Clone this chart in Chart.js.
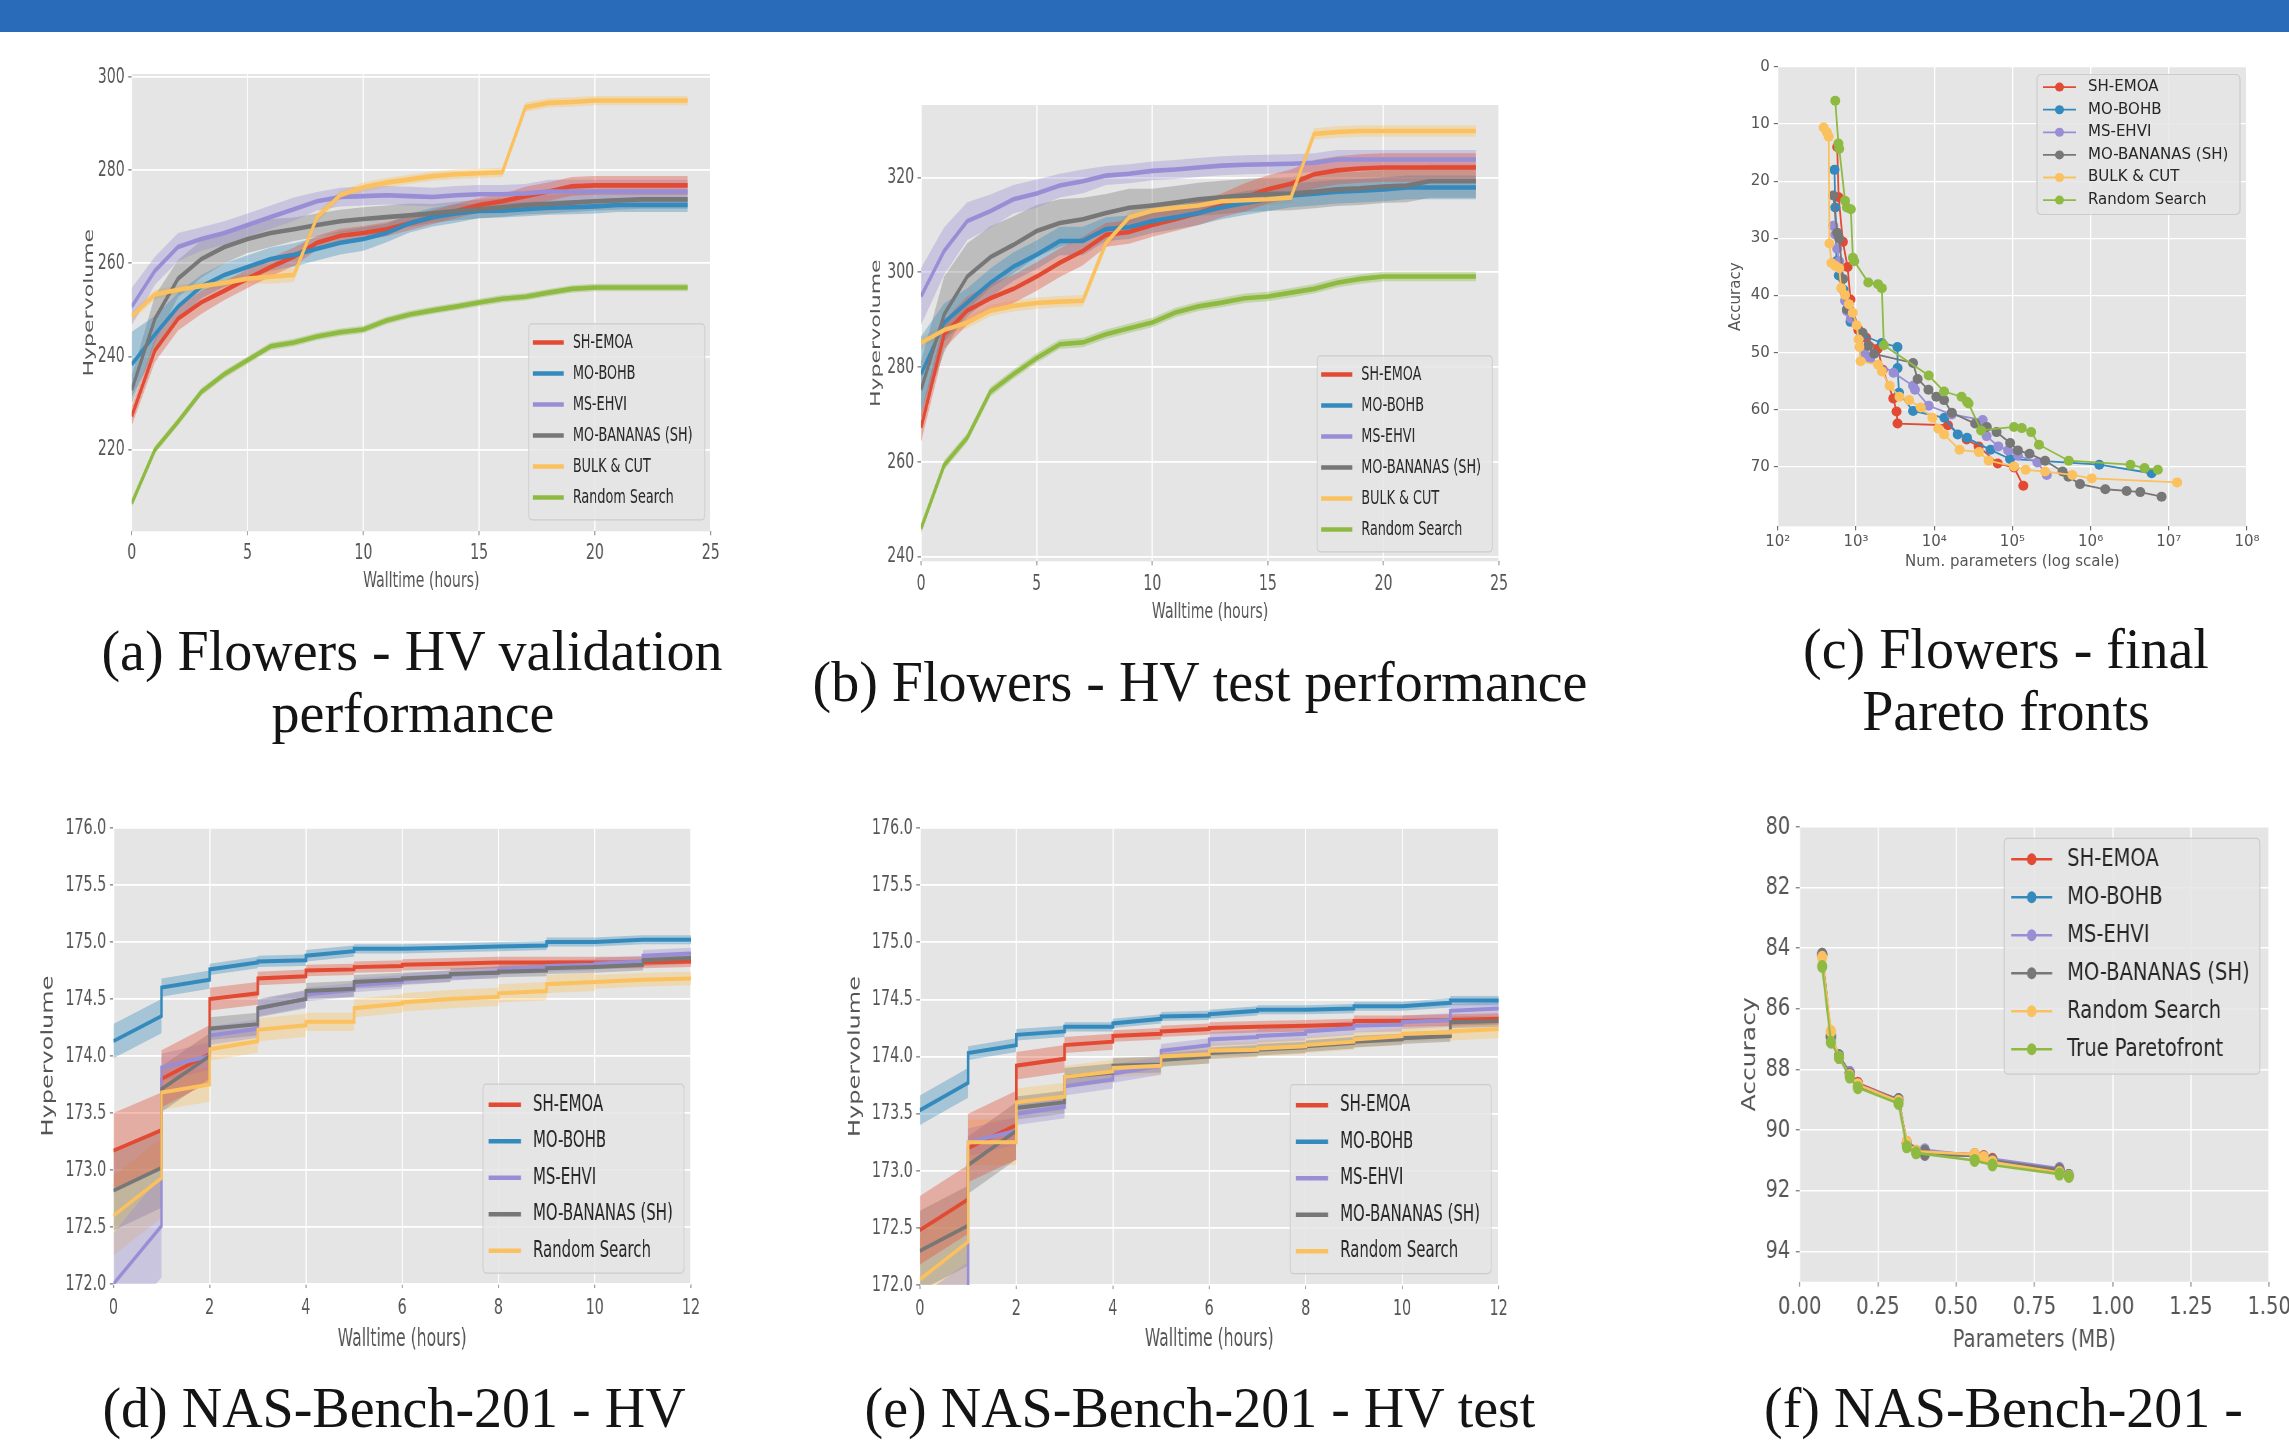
<!DOCTYPE html>
<html>
<head>
<meta charset="utf-8">
<script src="https://cdn.jsdelivr.net/npm/chart.js@4.4.1/dist/chart.umd.min.js"></script>
<style>
  html, body { margin: 0; padding: 0; background: #ffffff; }
  body { width: 2289px; height: 1440px; position: relative; overflow: hidden; }
  #topbar { position: absolute; left: 0; top: 0; width: 2289px; height: 32px; background: #2a6bb9; }
  canvas { position: absolute; transform-origin: 0 0; }
  .cap { position: absolute; font-family: "Liberation Serif", "DejaVu Serif", serif; font-size: 56px;
         line-height: 56px; color: #141414; white-space: nowrap; }
  .mid { transform: translateX(-50%); }
</style>
</head>
<body>
<div id="topbar"></div>
<canvas id="chartA"></canvas>
<canvas id="chartB"></canvas>
<canvas id="chartC"></canvas>
<canvas id="chartD"></canvas>
<canvas id="chartE"></canvas>
<canvas id="chartF"></canvas>

<div class="cap mid" style="left:412px; top:623px">(a) Flowers - HV validation</div>
<div class="cap mid" style="left:413px; top:685px">performance</div>
<div class="cap mid" style="left:1200px; top:654px">(b) Flowers - HV test performance</div>
<div class="cap mid" style="left:2006px; top:621px">(c) Flowers - final</div>
<div class="cap mid" style="left:2006px; top:683px">Pareto fronts</div>
<div class="cap mid" style="left:394px; top:1380px">(d) NAS-Bench-201 - HV</div>
<div class="cap mid" style="left:1200px; top:1380px">(e) NAS-Bench-201 - HV test</div>
<div class="cap" style="left:1764px; top:1380px">(f) NAS-Bench-201 -</div>

<script>
// ---------- data ----------
const hvNames = ['SH-EMOA', 'MO-BOHB', 'MS-EHVI', 'MO-BANANAS (SH)', 'BULK & CUT', 'Random Search'];
const nasNames = ['SH-EMOA', 'MO-BOHB', 'MS-EHVI', 'MO-BANANAS (SH)', 'Random Search'];
const paretoNames = ['SH-EMOA', 'MO-BOHB', 'MS-EHVI', 'MO-BANANAS (SH)', 'Random Search', 'True Paretofront'];
const hvColors = ['#E24A33', '#348ABD', '#988ED5', '#777777', '#FBC15E', '#8EBA42'];
const nasColors = ['#E24A33', '#348ABD', '#988ED5', '#777777', '#FBC15E'];
const paretoColors = ['#E24A33', '#348ABD', '#988ED5', '#777777', '#FBC15E', '#8EBA42'];

// (a) Flowers - HV validation, hourly
const flowersHours = [0, 1, 2, 3, 4, 5, 6, 7, 8, 9, 10, 11, 12, 13, 14, 15, 16, 17, 18, 19, 20, 21, 22, 23, 24];
const aSH   = [227.2, 241.3, 248.1, 251.6, 254.1, 256.7, 259.2, 261.4, 264.4, 265.9, 266.5, 267.3, 268.6, 269.9, 271.2, 272.5, 273.3, 274.4, 275.4, 276.5, 276.7, 276.7, 276.7, 276.7, 276.7];
const aBOHB = [238.3, 244.7, 250.7, 255.0, 257.5, 259.2, 260.9, 261.8, 263.1, 264.4, 265.2, 266.5, 268.6, 269.9, 270.7, 271.2, 271.3, 271.6, 271.9, 272.0, 272.2, 272.5, 272.5, 272.5, 272.5];
const aEHVI = [250.7, 258.4, 263.5, 265.2, 266.5, 268.2, 269.9, 271.6, 273.3, 274.2, 274.4, 274.6, 274.4, 274.2, 274.6, 274.8, 274.8, 275.0, 275.4, 275.4, 275.4, 275.4, 275.4, 275.4, 275.4];
const aBAN  = [232.8, 248.1, 256.7, 260.9, 263.5, 265.2, 266.5, 267.3, 268.2, 269.0, 269.5, 269.9, 270.3, 270.7, 271.2, 271.6, 272.0, 272.5, 272.7, 273.0, 273.3, 273.5, 273.7, 273.7, 273.7];
const aBULK = [248.6, 253.3, 254.3, 255.1, 255.8, 256.7, 257.1, 257.5, 269.9, 274.6, 276.3, 277.3, 278.0, 278.7, 279.1, 279.3, 279.5, 293.5, 294.4, 294.6, 294.9, 294.9, 294.9, 294.9, 294.9];
const aRS   = [208.5, 220.0, 226.0, 232.4, 236.2, 239.2, 242.2, 243.0, 244.3, 245.2, 245.8, 247.7, 249.0, 249.9, 250.7, 251.6, 252.4, 252.8, 253.7, 254.5, 254.8, 254.8, 254.8, 254.8, 254.8];
// half width of the shaded bands
const aSHband   = [2.0, 2.5, 2.5, 2.5, 2.0, 2.0, 2.0, 2.0, 1.5, 1.5, 1.5, 1.5, 1.5, 1.5, 1.5, 1.5, 1.5, 2.0, 2.0, 2.0, 2.0, 2.0, 2.0, 2.0, 2.0];
const aBOHBband = [7.0, 4.0, 3.0, 2.5, 2.5, 2.5, 2.5, 2.5, 2.5, 2.5, 2.5, 2.0, 2.0, 2.0, 2.0, 1.5, 1.5, 1.5, 1.5, 1.5, 1.5, 1.5, 1.5, 1.5, 1.5];
const aEHVIband = [4.0, 3.0, 3.0, 2.5, 2.5, 2.5, 2.5, 2.5, 2.0, 2.0, 2.0, 2.0, 2.0, 2.0, 2.0, 2.0, 2.0, 2.0, 2.5, 2.5, 2.5, 2.5, 2.5, 2.5, 2.5];
const aBANband  = [3.0, 5.0, 4.0, 4.0, 3.5, 3.0, 3.0, 2.5, 2.5, 2.5, 2.5, 2.5, 2.5, 2.0, 2.0, 2.0, 2.0, 2.0, 2.0, 2.0, 2.0, 2.0, 2.0, 2.0, 2.0];
const aBULKband = [1.0, 1.0, 1.0, 1.0, 1.0, 1.0, 1.5, 1.5, 1.0, 1.0, 1.0, 1.0, 1.0, 1.0, 1.0, 1.0, 1.0, 1.0, 1.0, 1.0, 1.0, 1.0, 1.0, 1.0, 1.0];
const aRSband   = [0.8, 0.8, 0.8, 0.8, 0.8, 0.8, 0.8, 0.8, 0.8, 0.8, 0.8, 0.8, 0.8, 0.8, 0.8, 0.8, 0.8, 0.8, 0.8, 0.8, 0.8, 0.8, 0.8, 0.8, 0.8];

// (b) Flowers - HV test
const bSH   = [267.2, 286.9, 291.9, 294.5, 296.5, 299.1, 302.0, 304.5, 307.9, 308.5, 310.0, 311.2, 312.5, 314.1, 315.8, 317.5, 318.7, 320.7, 321.5, 321.9, 322.1, 322.1, 322.1, 322.1, 322.1];
const bBOHB = [278.5, 289.4, 293.6, 297.8, 301.2, 303.7, 306.6, 306.6, 309.1, 309.5, 310.8, 311.6, 312.5, 313.7, 314.6, 315.4, 316.2, 316.6, 317.0, 317.2, 317.5, 317.9, 317.9, 317.9, 317.9];
const bEHVI = [294.9, 304.5, 310.8, 312.9, 315.4, 316.6, 318.3, 319.2, 320.4, 320.8, 321.4, 321.7, 322.1, 322.5, 322.7, 322.8, 322.9, 323.1, 323.8, 323.8, 323.8, 323.8, 323.8, 323.8, 323.8];
const bBAN  = [275.2, 291.1, 299.1, 303.2, 305.8, 308.7, 310.4, 311.2, 312.5, 313.6, 314.1, 314.7, 315.4, 315.8, 316.2, 316.5, 316.6, 317.0, 317.5, 317.7, 318.1, 318.3, 319.2, 319.2, 319.2];
const bBULK = [285.1, 287.8, 289.4, 291.9, 292.9, 293.5, 293.8, 294.0, 306.2, 311.6, 313.0, 313.6, 314.1, 315.0, 315.2, 315.4, 315.8, 329.2, 329.6, 329.8, 329.8, 329.8, 329.8, 329.8, 329.8];
const bRS   = [245.9, 259.3, 265.1, 274.8, 278.5, 281.9, 284.8, 285.2, 286.9, 288.2, 289.4, 291.5, 292.8, 293.6, 294.5, 294.9, 295.7, 296.5, 297.8, 298.6, 299.1, 299.1, 299.1, 299.1, 299.1];
const bSHband   = [3.0, 3.0, 3.0, 3.0, 3.0, 3.0, 3.0, 3.0, 2.5, 2.5, 2.5, 2.5, 2.5, 2.5, 3.0, 3.0, 3.0, 3.0, 3.0, 3.0, 3.0, 3.0, 3.0, 3.0, 3.0];
const bBOHBband = [8.0, 4.0, 3.0, 3.0, 3.0, 3.0, 3.0, 3.0, 2.5, 2.5, 2.5, 2.5, 2.5, 2.5, 2.5, 2.5, 2.5, 2.5, 2.5, 2.5, 2.5, 2.5, 2.5, 2.5, 2.5];
const bEHVIband = [6.0, 5.0, 4.0, 3.5, 3.0, 3.0, 2.5, 2.5, 2.0, 2.0, 2.0, 2.0, 2.0, 2.0, 2.0, 2.0, 2.0, 2.0, 2.0, 2.0, 2.0, 2.0, 2.0, 2.0, 2.0];
const bBANband  = [6.0, 8.0, 7.0, 6.5, 6.0, 5.5, 5.0, 4.5, 4.0, 4.0, 3.5, 3.5, 3.5, 3.5, 3.5, 3.5, 3.5, 3.5, 3.5, 3.5, 3.5, 3.5, 3.5, 3.5, 3.5];
const bBULKband = [1.2, 1.2, 1.2, 1.2, 1.2, 1.2, 1.2, 1.2, 1.2, 1.2, 1.2, 1.2, 1.2, 1.2, 1.2, 1.2, 1.2, 1.2, 1.2, 1.2, 1.2, 1.2, 1.2, 1.2, 1.2];
const bRSband   = [1.0, 1.0, 1.0, 1.0, 1.0, 1.0, 1.0, 1.0, 1.0, 1.0, 1.0, 1.0, 1.0, 1.0, 1.0, 1.0, 1.0, 1.0, 1.0, 1.0, 1.0, 1.0, 1.0, 1.0, 1.0];

// (c) Flowers - final Pareto fronts (num. parameters, accuracy)
const cSHx   = [575, 600, 680, 780, 850, 1070, 1350, 1900, 2200, 3000, 3300, 3400, 15000, 26000, 37000, 65000, 105000, 138000];
const cSHy   = [14, 22.8, 30.6, 35, 40.7, 46, 47.4, 49.3, 53, 58, 60.3, 62.4, 62.7, 65.2, 66.4, 69.4, 70.1, 73.3];
const cBOHBx = [531, 543, 562, 603, 692, 776, 851, 1230, 2140, 3390, 3400, 3550, 5370, 13500, 20000, 26300, 52500, 93300, 1290000, 6030000];
const cBOHBy = [18, 24.6, 34, 36.5, 39, 42.7, 44.6, 47, 48.3, 49, 52.7, 57, 60.2, 61.4, 64.3, 64.9, 67, 68.6, 69.6, 71.1];
const cEHVIx = [513, 543, 575, 610, 724, 766, 859, 1143, 1282, 1514, 3020, 5370, 5675, 8510, 16800, 41700, 46800, 66100, 88100, 117500, 208900, 275400];
const cEHVIy = [27.8, 29.3, 31.8, 34, 40.9, 42.7, 44, 47.1, 50.2, 51, 53.5, 55.8, 56.5, 59.3, 60.8, 61.8, 64.6, 66.4, 67.1, 68, 69.2, 71.4];
const cBANx  = [513, 575, 610, 684, 766, 1211, 1436, 1706, 5360, 6140, 8450, 10640, 13370, 16790, 33400, 47100, 62700, 93500, 117500, 165600, 261800, 437500, 519600, 732800, 1542000, 2891000, 4316000, 8090000];
const cBANy  = [22.5, 29, 30, 37.1, 42.4, 46.5, 48.8, 50.2, 51.8, 54.6, 56.5, 57.7, 58.3, 60.5, 62.4, 63, 63.9, 65.8, 67.1, 67.7, 68.9, 70.8, 71.7, 73, 73.9, 74.2, 74.4, 75.2];
const cBULKx = [385, 423, 448, 458, 485, 543, 610, 646, 724, 811, 910, 1019, 1079, 1105, 1143, 1914, 2144, 2698, 3590, 4778, 6730, 9480, 11270, 13370, 21140, 37410, 49780, 104700, 147600, 261800, 583400, 1033000, 12790000];
const cBULKy = [10.6, 11.4, 12.2, 30.9, 34.3, 34.8, 35.2, 38.7, 39.9, 41.5, 43, 45.2, 47.7, 49, 51.5, 52.1, 53.3, 55.8, 57.7, 58.3, 59.6, 61.4, 63.3, 64.3, 67, 67.4, 68.9, 69.9, 70.5, 70.8, 71.4, 72, 72.7];
const cRSx   = [543, 596, 610, 724, 766, 859, 912, 950, 1436, 1914, 2140, 2270, 8510, 13370, 22390, 26300, 27500, 39800, 104700, 131800, 173800, 218800, 524800, 3236000, 4898000, 7244000];
const cRSy   = [5.9, 13.4, 14.3, 23.4, 24.6, 24.9, 33.4, 34, 37.7, 38, 38.7, 48.7, 54, 56.8, 57.7, 58.6, 58.9, 63.6, 63, 63.2, 63.9, 66.1, 68.9, 69.6, 70.2, 70.5];

// (d) NAS-Bench-201 - HV : value at the start and at the end of each hour
const nasHours = [0, 1, 2, 3, 4, 5, 6, 7, 8, 9, 10, 11];
const dSHstart   = [173.17, 173.80, 174.50, 174.68, 174.75, 174.78, 174.80, 174.81, 174.82, 174.82, 174.82, 174.82];
const dSHend     = [173.35, 174.02, 174.55, 174.70, 174.76, 174.79, 174.81, 174.82, 174.82, 174.82, 174.82, 174.83];
const dBOHBstart = [174.13, 174.60, 174.76, 174.83, 174.88, 174.94, 174.94, 174.95, 174.96, 175.00, 175.00, 175.02];
const dBOHBend   = [174.35, 174.67, 174.82, 174.84, 174.92, 174.94, 174.95, 174.96, 174.97, 175.00, 175.02, 175.02];
const dEHVIstart = [172.00, 173.90, 174.18, 174.42, 174.54, 174.62, 174.67, 174.71, 174.76, 174.79, 174.81, 174.88];
const dEHVIend   = [172.51, 174.00, 174.24, 174.50, 174.58, 174.65, 174.70, 174.74, 174.78, 174.80, 174.83, 174.90];
const dBANstart  = [172.82, 173.71, 174.24, 174.42, 174.57, 174.65, 174.68, 174.72, 174.74, 174.77, 174.78, 174.84];
const dBANend    = [173.02, 174.00, 174.28, 174.50, 174.59, 174.67, 174.70, 174.73, 174.75, 174.78, 174.80, 174.86];
const dRSstart   = [172.60, 173.68, 174.06, 174.23, 174.30, 174.42, 174.47, 174.50, 174.55, 174.63, 174.65, 174.67];
const dRSend     = [172.93, 173.75, 174.13, 174.27, 174.30, 174.46, 174.50, 174.52, 174.57, 174.65, 174.67, 174.68];
const dSHband   = [0.33, 0.25, 0.10, 0.06, 0.05, 0.05, 0.05, 0.05, 0.05, 0.05, 0.05, 0.05];
const dBOHBband = [0.15, 0.08, 0.05, 0.05, 0.05, 0.04, 0.04, 0.04, 0.04, 0.04, 0.04, 0.04];
const dEHVIband = [0.45, 0.12, 0.08, 0.07, 0.06, 0.06, 0.05, 0.05, 0.05, 0.05, 0.05, 0.05];
const dBANband  = [0.35, 0.20, 0.10, 0.08, 0.07, 0.06, 0.05, 0.05, 0.05, 0.05, 0.05, 0.05];
const dRSband   = [0.35, 0.15, 0.10, 0.10, 0.08, 0.08, 0.08, 0.08, 0.08, 0.08, 0.06, 0.06];

// (e) NAS-Bench-201 - HV test
const eSHstart   = [172.48, 173.20, 173.92, 174.10, 174.18, 174.22, 174.25, 174.26, 174.27, 174.31, 174.31, 174.32];
const eSHend     = [172.75, 173.40, 173.98, 174.13, 174.20, 174.24, 174.26, 174.27, 174.28, 174.31, 174.32, 174.33];
const eBOHBstart = [173.53, 174.03, 174.19, 174.26, 174.29, 174.35, 174.37, 174.41, 174.41, 174.44, 174.44, 174.49];
const eBOHBend   = [173.77, 174.10, 174.22, 174.26, 174.33, 174.36, 174.40, 174.41, 174.42, 174.44, 174.47, 174.49];
const eEHVIstart = [171.60, 173.25, 173.50, 173.74, 173.85, 174.05, 174.15, 174.18, 174.22, 174.27, 174.30, 174.40];
const eEHVIend   = [171.90, 173.35, 173.56, 173.80, 173.92, 174.10, 174.17, 174.20, 174.25, 174.28, 174.32, 174.42];
const eBANstart  = [172.30, 173.05, 173.55, 173.82, 173.92, 173.97, 174.03, 174.06, 174.09, 174.13, 174.16, 174.30];
const eBANend    = [172.52, 173.35, 173.60, 173.86, 173.93, 174.00, 174.05, 174.08, 174.12, 174.15, 174.18, 174.31];
const eRSstart   = [172.05, 173.25, 173.60, 173.82, 173.90, 174.00, 174.05, 174.07, 174.10, 174.15, 174.20, 174.22];
const eRSend     = [172.38, 173.25, 173.65, 173.87, 173.92, 174.02, 174.06, 174.09, 174.13, 174.18, 174.21, 174.24];
const eSHband   = [0.30, 0.30, 0.12, 0.07, 0.05, 0.05, 0.05, 0.05, 0.05, 0.05, 0.05, 0.05];
const eBOHBband = [0.13, 0.06, 0.05, 0.04, 0.04, 0.04, 0.04, 0.04, 0.04, 0.04, 0.04, 0.04];
const eEHVIband = [0.30, 0.12, 0.10, 0.08, 0.08, 0.06, 0.06, 0.06, 0.06, 0.06, 0.06, 0.06];
const eBANband  = [0.35, 0.25, 0.10, 0.08, 0.07, 0.06, 0.05, 0.05, 0.05, 0.05, 0.05, 0.05];
const eRSband   = [0.40, 0.20, 0.12, 0.10, 0.08, 0.08, 0.07, 0.07, 0.07, 0.07, 0.07, 0.08];

// (f) NAS-Bench-201 Pareto fronts (parameters MB, accuracy)
const fSHx   = [0.072, 0.1, 0.126, 0.16, 0.186, 0.316, 0.342, 0.372, 0.559, 0.588, 0.616, 0.83, 0.86];
const fSHy   = [84.2, 86.9, 87.6, 88.1, 88.45, 89.0, 90.4, 90.7, 90.8, 90.87, 90.96, 91.35, 91.5];
const fBOHBx = [0.072, 0.1, 0.126, 0.16, 0.186, 0.316, 0.342, 0.4, 0.559, 0.616, 0.83, 0.86];
const fBOHBy = [84.2, 86.9, 87.55, 88.1, 88.5, 89.0, 90.45, 90.7, 90.85, 91.0, 91.3, 91.5];
const fEHVIx = [0.072, 0.1, 0.126, 0.16, 0.186, 0.316, 0.342, 0.4, 0.559, 0.588, 0.83, 0.86];
const fEHVIy = [84.25, 86.95, 87.6, 88.1, 88.5, 89.0, 90.45, 90.65, 90.85, 90.9, 91.26, 91.5];
const fBANx  = [0.072, 0.1, 0.126, 0.16, 0.186, 0.316, 0.342, 0.4, 0.4, 0.559, 0.588, 0.616, 0.83, 0.86];
const fBANy  = [84.2, 86.95, 87.55, 88.15, 88.55, 88.99, 90.45, 90.7, 90.8, 90.85, 90.9, 91.0, 91.3, 91.5];
const fRSx   = [0.072, 0.1, 0.126, 0.16, 0.186, 0.316, 0.342, 0.372, 0.559, 0.588, 0.616, 0.83, 0.86];
const fRSy   = [84.3, 86.74, 87.6, 88.2, 88.5, 89.05, 90.4, 90.7, 90.8, 90.9, 91.05, 91.4, 91.52];
const fTRUEx = [0.072, 0.1, 0.126, 0.16, 0.186, 0.316, 0.342, 0.372, 0.559, 0.616, 0.83, 0.86];
const fTRUEy = [84.6, 87.1, 87.6, 88.25, 88.6, 89.12, 90.55, 90.75, 91.0, 91.15, 91.45, 91.53];

// tick values
const flowersXTicks = [0, 5, 10, 15, 20, 25];
const aYTicks = [220, 240, 260, 280, 300];
const bYTicks = [240, 260, 280, 300, 320];
const cXTicks = [1e2, 1e3, 1e4, 1e5, 1e6, 1e7, 1e8];
const cYTicks = [0, 10, 20, 30, 40, 50, 60, 70];
const nasXTicks = [0, 2, 4, 6, 8, 10, 12];
const nasYTicks = [172.0, 172.5, 173.0, 173.5, 174.0, 174.5, 175.0, 175.5, 176.0];
const fXTicks = [0, 0.25, 0.5, 0.75, 1.0, 1.25, 1.5];
const fYTicks = [80, 82, 84, 86, 88, 90, 92, 94];

// ---------- helpers ----------
Chart.defaults.font.family = '"DejaVu Sans", sans-serif';
const PT = 20, PR = 40;

function rgba(hex, a) {
  const n = parseInt(hex.slice(1), 16);
  return `rgba(${n >> 16}, ${(n >> 8) & 255}, ${n & 255}, ${a})`;
}

const plotBg = {
  id: 'plotBg',
  beforeDraw(chart) {
    const { ctx, chartArea: a } = chart;
    ctx.save();
    ctx.fillStyle = '#E5E5E5';
    ctx.fillRect(a.left, a.top, a.right - a.left, a.bottom - a.top);
    ctx.restore();
  }
};

// legend drawn inside the plot, like matplotlib
const insideLegend = {
  id: 'insideLegend',
  afterDatasetsDraw(chart, args, o) {
    if (!o.items) return;
    const { ctx, chartArea: a } = chart;
    const s = o.s;
    const bw = o.w / s, bh = o.h;
    const bx = a.right - o.right / s - bw;
    const by = o.top != null ? a.top + o.top : a.bottom - o.bottom - bh;
    const r = 5;
    ctx.save();
    ctx.beginPath();
    ctx.moveTo(bx + r, by);
    ctx.lineTo(bx + bw - r, by); ctx.quadraticCurveTo(bx + bw, by, bx + bw, by + r);
    ctx.lineTo(bx + bw, by + bh - r); ctx.quadraticCurveTo(bx + bw, by + bh, bx + bw - r, by + bh);
    ctx.lineTo(bx + r, by + bh); ctx.quadraticCurveTo(bx, by + bh, bx, by + bh - r);
    ctx.lineTo(bx, by + r); ctx.quadraticCurveTo(bx, by, bx + r, by);
    ctx.closePath();
    ctx.fillStyle = 'rgba(229, 229, 229, 0.85)';
    ctx.fill();
    ctx.strokeStyle = '#cccccc';
    ctx.lineWidth = 1.2;
    ctx.stroke();
    ctx.font = o.fs + 'px "DejaVu Sans"';
    ctx.textBaseline = 'middle';
    ctx.textAlign = 'left';
    o.items.forEach((it, i) => {
      const y = by + o.first + i * o.row;
      const x0 = bx + o.h0 / s, x1 = bx + o.h1 / s;
      ctx.strokeStyle = it.color;
      ctx.lineWidth = o.lw;
      ctx.beginPath(); ctx.moveTo(x0, y); ctx.lineTo(x1, y); ctx.stroke();
      if (o.marker) {
        ctx.fillStyle = it.color;
        ctx.beginPath(); ctx.arc((x0 + x1) / 2, y, o.marker, 0, Math.PI * 2); ctx.fill();
      }
      ctx.fillStyle = '#262626';
      ctx.fillText(it.label, bx + o.tx / s, y);
    });
    ctx.restore();
  }
};

function axis(c) {
  return {
    type: c.type || 'linear',
    min: c.min, max: c.max, reverse: !!c.reverse,
    afterBuildTicks: sc => { sc.ticks = c.ticks.map(v => ({ value: v })); },
    grid: { color: '#FFFFFF', lineWidth: c.gw, drawTicks: true, tickLength: c.tl, tickColor: '#555555', tickWidth: 1 },
    border: { display: false },
    ticks: { color: '#555555', font: { size: c.fs }, padding: c.pad, autoSkip: false, maxRotation: 0, minRotation: 0, callback: c.fmt },
    title: { display: true, text: c.title, color: '#555555', font: { size: c.tfs }, padding: 0 }
  };
}

function bandSets(xs, means, halfs, cols, lw) {
  const out = [];
  means.forEach((m, i) => {
    out.push({ data: xs.map((x, k) => ({ x, y: m[k] + halfs[i][k] })), borderWidth: 0, borderColor: 'rgba(0,0,0,0)',
      pointRadius: 0, pointHoverRadius: 0, fill: '+1', backgroundColor: rgba(cols[i], 0.36), order: 10 });
    out.push({ data: xs.map((x, k) => ({ x, y: m[k] - halfs[i][k] })), borderWidth: 0, borderColor: 'rgba(0,0,0,0)',
      pointRadius: 0, pointHoverRadius: 0, fill: false, order: 10 });
    out.push({ data: xs.map((x, k) => ({ x, y: m[k] })), borderWidth: lw, borderColor: cols[i],
      pointRadius: 0, pointHoverRadius: 0, fill: false, order: -i });
  });
  return out;
}

function frontSets(xsList, ysList, cols, lw, r) {
  return xsList.map((xs, i) => ({
    data: xs.map((x, k) => ({ x, y: ysList[i][k] })),
    borderColor: cols[i], backgroundColor: cols[i], borderWidth: lw,
    pointRadius: r, pointHoverRadius: r, pointBorderWidth: 0, pointBackgroundColor: cols[i],
    fill: false, order: -i
  }));
}

// hour steps: value at start of hour k, then value at end of hour k
function stepX(hours) { const out = []; hours.forEach(h => out.push(h, h + 1)); return out; }
function stepY(starts, ends) { const out = []; starts.forEach((v, k) => out.push(v, ends[k])); return out; }
function stepBand(b) { const out = []; b.forEach(v => out.push(v, v)); return out; }

function makeChart(id, g, datasets, xAxis, yAxis, legend) {
  const lh = g.tfs * 1.2;
  const wy = (g.L - g.yTitleX) / g.s + lh / 2;
  const left = g.L - g.s * wy;
  const w = Math.round((g.R - left) / g.s + PR);
  const hx = (g.xTitleY - g.B) + lh / 2;
  const h = Math.round(PT + (g.B - g.T) + hx);
  const cv = document.getElementById(id);
  cv.width = w; cv.height = h;
  cv.style.left = left + 'px';
  cv.style.top = (g.T - PT) + 'px';
  cv.style.width = w + 'px';
  cv.style.height = h + 'px';
  cv.style.transform = `scaleX(${g.s})`;
  xAxis.afterFit = sc => { sc.height = hx; };
  yAxis.afterFit = sc => { sc.width = wy; };
  legend.s = g.s;
  return new Chart(cv, {
    type: 'line',
    data: { datasets },
    options: {
      responsive: false,
      animation: false,
      events: [],
      devicePixelRatio: 1,
      layout: { padding: { left: 0, top: PT, right: PR, bottom: 0 } },
      elements: { line: { tension: 0 } },
      scales: { x: xAxis, y: yAxis },
      plugins: { legend: { display: false }, tooltip: { enabled: false }, insideLegend: legend }
    },
    plugins: [plotBg, insideLegend]
  });
}

const legendItems = (names, cols) => names.map((label, i) => ({ label, color: cols[i] }));
const intFmt = v => String(Math.round(v));
const sup = { 2: '\u00B2', 3: '\u00B3', 4: '\u2074', 5: '\u2075', 6: '\u2076', 7: '\u2077', 8: '\u2078' };

// ---------- (a) ----------
makeChart('chartA',
  { s: 0.64, L: 132, T: 73.5, R: 711, B: 530.5, yTitleX: 89.7, xTitleY: 580, tfs: 22 },
  bandSets(flowersHours, [aSH, aBOHB, aEHVI, aBAN, aBULK, aRS],
    [aSHband, aBOHBband, aEHVIband, aBANband, aBULKband, aRSband], hvColors, 4.6),
  axis({ min: 0, max: 25, ticks: flowersXTicks, gw: 1.8, tl: 4, fs: 22, pad: 5, fmt: intFmt, title: 'Walltime (hours)', tfs: 22 }),
  axis({ min: 202.5, max: 300.6, ticks: aYTicks, gw: 1.8, tl: 5.5, fs: 22, pad: 5.5, fmt: intFmt, title: 'Hypervolume', tfs: 22 }),
  { items: legendItems(hvNames, hvColors), right: 6, bottom: 11.5, w: 176, h: 196, first: 18.7, row: 31, h0: 4, h1: 35, tx: 44, fs: 20, lw: 4.6 }
);

// ---------- (b) ----------
makeChart('chartB',
  { s: 0.64, L: 920.6, T: 104.9, R: 1498.8, B: 561.5, yTitleX: 876, xTitleY: 612, tfs: 22 },
  bandSets(flowersHours, [bSH, bBOHB, bEHVI, bBAN, bBULK, bRS],
    [bSHband, bBOHBband, bEHVIband, bBANband, bBULKband, bRSband], hvColors, 4.6),
  axis({ min: 0, max: 25, ticks: flowersXTicks, gw: 1.8, tl: 4, fs: 22, pad: 6, fmt: intFmt, title: 'Walltime (hours)', tfs: 22 }),
  axis({ min: 239, max: 335.3, ticks: bYTicks, gw: 1.8, tl: 5.5, fs: 22, pad: 5.5, fmt: intFmt, title: 'Hypervolume', tfs: 22 }),
  { items: legendItems(hvNames, hvColors), right: 6.8, bottom: 9.5, w: 175, h: 196, first: 18.7, row: 31, h0: 4, h1: 35, tx: 44, fs: 20, lw: 4.6 }
);

// ---------- (c) ----------
makeChart('chartC',
  { s: 1, L: 1777.8, T: 67.3, R: 2247, B: 526.4, yTitleX: 1736, xTitleY: 562, tfs: 15 },
  frontSets([cSHx, cBOHBx, cEHVIx, cBANx, cBULKx, cRSx], [cSHy, cBOHBy, cEHVIy, cBANy, cBULKy, cRSy], hvColors, 1.8, 5),
  axis({ type: 'logarithmic', min: 1e2, max: 1e8, ticks: cXTicks, gw: 1.3, tl: 4, fs: 15, pad: 3,
    fmt: v => '10' + sup[Math.round(Math.log10(v))], title: 'Num. parameters (log scale)', tfs: 15 }),
  axis({ min: 0, max: 80.4, reverse: true, ticks: cYTicks, gw: 1.3, tl: 4, fs: 15, pad: 4, fmt: intFmt, title: 'Accuracy', tfs: 15 }),
  { items: legendItems(hvNames, hvColors), right: 7, top: 7.5, w: 203, h: 140, first: 12.6, row: 22.6, h0: 6, h1: 39, tx: 51, fs: 15, lw: 1.8, marker: 4.5 }
);

// ---------- (d) ----------
const nasX = stepX(nasHours);
makeChart('chartD',
  { s: 0.65, L: 113.5, T: 828.3, R: 691, B: 1284.5, yTitleX: 48.5, xTitleY: 1340, tfs: 24 },
  bandSets(nasX,
    [stepY(dSHstart, dSHend), stepY(dBOHBstart, dBOHBend), stepY(dEHVIstart, dEHVIend), stepY(dBANstart, dBANend), stepY(dRSstart, dRSend)],
    [stepBand(dSHband), stepBand(dBOHBband), stepBand(dEHVIband), stepBand(dBANband), stepBand(dRSband)], nasColors, 4),
  axis({ min: 0, max: 12, ticks: nasXTicks, gw: 1.8, tl: 4, fs: 22, pad: 6.5, fmt: intFmt, title: 'Walltime (hours)', tfs: 24 }),
  axis({ min: 172, max: 176, ticks: nasYTicks, gw: 1.8, tl: 5.5, fs: 22, pad: 5.5, fmt: v => v.toFixed(1), title: 'Hypervolume', tfs: 24 }),
  { items: legendItems(nasNames, nasColors), right: 7, bottom: 11, w: 201, h: 189, first: 20.6, row: 36.5, h0: 5.6, h1: 38, tx: 50, fs: 23, lw: 4.6 }
);

// ---------- (e) ----------
makeChart('chartE',
  { s: 0.65, L: 919.5, T: 828.3, R: 1498.5, B: 1285.5, yTitleX: 855, xTitleY: 1340, tfs: 24 },
  bandSets(nasX,
    [stepY(eSHstart, eSHend), stepY(eBOHBstart, eBOHBend), stepY(eEHVIstart, eEHVIend), stepY(eBANstart, eBANend), stepY(eRSstart, eRSend)],
    [stepBand(eSHband), stepBand(eBOHBband), stepBand(eEHVIband), stepBand(eBANband), stepBand(eRSband)], nasColors, 4),
  axis({ min: 0, max: 12, ticks: nasXTicks, gw: 1.8, tl: 4, fs: 22, pad: 6.5, fmt: intFmt, title: 'Walltime (hours)', tfs: 24 }),
  axis({ min: 172, max: 176, ticks: nasYTicks, gw: 1.8, tl: 5.5, fs: 22, pad: 5.5, fmt: v => v.toFixed(1), title: 'Hypervolume', tfs: 24 }),
  { items: legendItems(nasNames, nasColors), right: 7.5, bottom: 11.5, w: 201, h: 189, first: 20.6, row: 36.5, h0: 5.6, h1: 38, tx: 50, fs: 23, lw: 4.6 }
);

// ---------- (f) ----------
makeChart('chartF',
  { s: 0.78, L: 1799.5, T: 825.4, R: 2269, B: 1281.7, yTitleX: 1749.6, xTitleY: 1340, tfs: 25 },
  frontSets([fSHx, fBOHBx, fEHVIx, fBANx, fRSx, fTRUEx], [fSHy, fBOHBy, fEHVIy, fBANy, fRSy, fTRUEy], paretoColors, 2.6, 6.5),
  axis({ min: 0, max: 1.5, ticks: fXTicks, gw: 1.6, tl: 5, fs: 25, pad: 6, fmt: v => v.toFixed(2), title: 'Parameters (MB)', tfs: 25 }),
  axis({ min: 80, max: 95, reverse: true, ticks: fYTicks, gw: 1.6, tl: 5, fs: 25, pad: 7, fmt: intFmt, title: 'Accuracy', tfs: 25 }),
  { items: legendItems(paretoNames, paretoColors), right: 9.4, top: 11.3, w: 255.6, h: 235.8, first: 21, row: 38, h0: 7, h1: 48, tx: 63, fs: 25, lw: 2.6, marker: 6 }
);
</script>
</body>
</html>
